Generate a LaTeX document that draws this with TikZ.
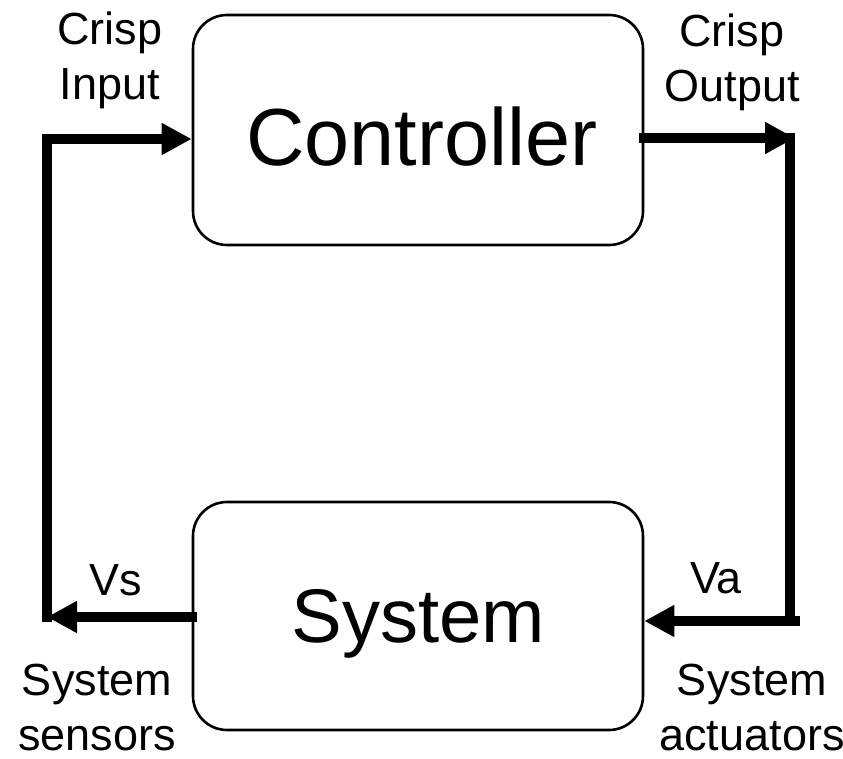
\documentclass[tikz,border=0pt]{standalone}
\usepackage{fontspec}
\setmainfont{Liberation Sans}
\usetikzlibrary{arrows.meta}

\tikzset{
  block/.style={draw, line width=2.6pt, rounded corners=34pt,
    minimum width=450pt, inner sep=0pt},
  bigtext/.style={font=\fontsize{81}{90}\selectfont},
  label/.style={font=\fontsize{45}{55}\selectfont, align=center, inner sep=0pt},
  signal/.style={line width=10pt, line cap=rect},
  flow/.style={signal, -{Triangle[length=30pt,width=30pt]}},
}

\begin{document}
\begin{tikzpicture}[x=1pt,y=-1pt]
  \useasboundingbox (0,0) rectangle (843,759);

  % the two blocks
  \node[block, minimum height=230pt] (ctrl) at (418,130) {};
  \node[bigtext, anchor=base] (ctrltext) at (422,166) {Controller};
  \node[block, minimum height=228pt] (sys) at (418,616) {};
  \node[bigtext, font=\fontsize{76}{80}\selectfont, anchor=base] (systext) at (418,642) {System};

  % corner points of the loop
  \coordinate (lt) at (47,139);
  \coordinate (lb) at (47,617);
  \coordinate (rt) at (790,138);
  \coordinate (rb) at (790,621);
  \coordinate (rtip) at (795,138);
  \coordinate (rin) at (795,621);

  % feedback loop
  \draw[signal] (lt) -- (lb);
  \draw[signal] (rt) -- (rb);
  \draw[flow] (lt) -- (ctrl.west |- lt);
  \draw[flow] (ctrl.east |- rt) -- (rtip);
  \draw[flow] (rin) -- (sys.east |- rin);
  \draw[flow] (sys.west |- lb) -- (lb);

  % signal labels (anchored at the baseline of their last line)
  \node[label, anchor=base] (cin) at (110,100) {Crisp\\Input};
  \node[label, anchor=base] (cout) at (732,102) {Crisp\\Output};
  \node[label, anchor=base] (vs) at (116,595) {Vs};
  \node[label, anchor=base] (va) at (716,593) {Va};
  \node[label, anchor=base] (sens) at (97,750) {System\\sensors};
  \node[label, anchor=base] (act) at (752,750) {System\\actuators};
\end{tikzpicture}
\end{document}
